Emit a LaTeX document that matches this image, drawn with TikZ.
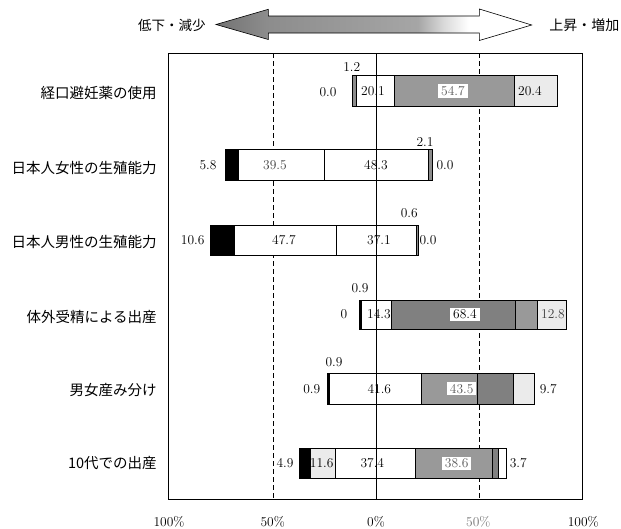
\documentclass[tikz,border=0pt]{standalone}
\usepackage{fontspec}
\newfontfamily\jp{Noto Sans CJK JP}
\usepackage{tikz}
\pgfdeclarehorizontalshading{arrowfade}{100bp}{color(0bp)=(black!55); color(25bp)=(black!55); color(33bp)=(black!45); color(57bp)=(black!35); color(61bp)=(black!15); color(65bp)=(white); color(100bp)=(white)}

\begin{document}
\begin{tikzpicture}[x=1pt,y=-1pt,line width=.7pt]
\tikzstyle{num} = [font=\fontsize{13.5}{14}\selectfont, inner sep=1pt]
\tikzstyle{numbox} = [num, fill=white, inner xsep=3pt, inner ysep=2pt, text=black!65]
\tikzstyle{tick} = [num, anchor=base, inner sep=0pt]
\tikzstyle{cat} = [font=\jp\fontsize{14.5}{15}\selectfont, anchor=east, inner sep=0pt]
\tikzstyle{segblk} = [draw, fill=black]
\tikzstyle{segwht} = [draw, fill=white]
\tikzstyle{seggry} = [draw, fill=black!40]
\tikzstyle{segdot} = [draw, fill=black!50]
\tikzstyle{seglit} = [draw, fill=black!8]
\tikzstyle{seghat} = [draw, fill=black!45]
\tikzstyle{grid} = [line width=.6pt, dash pattern=on 5pt off 3pt]
\useasboundingbox (0,0) rectangle (621,528);

% direction arrow
\shadedraw[shading=arrowfade, line width=.6pt] (216,24.5) -- (268.3,9.3) -- (268.3,16)
  -- (479.3,16) -- (479.3,9) -- (531.7,25) -- (479.3,40.5) -- (479.3,33)
  -- (268.3,33) -- (268.3,39.5) -- cycle;
\node[cat, font=\jp\fontsize{13.5}{14}\selectfont] (down) at (206,25) {低下・減少};
\node[cat, anchor=west, font=\jp\fontsize{14}{14}\selectfont] (up) at (549,25) {上昇・増加};

% frame and grid
\draw (168.3,53.3) rectangle (582.7,499.3);
\draw[grid] (273,53.3) -- (273,499.3);
\draw[grid] (479.3,53.3) -- (479.3,499.3);

% categories
\node[cat] (c1) at (157,93.3) {経口避妊薬の使用};
\node[cat] (c2) at (157,168) {日本人女性の生殖能力};
\node[cat] (c3) at (157,241.7) {日本人男性の生殖能力};
\node[cat] (c4) at (157,316.7) {体外受精による出産};
\node[cat] (c5) at (157,390) {男女産み分け};
\node[cat] (c6) at (157,463.3) {10代での出産};

% bars
\draw[seghat] (352.7,75) rectangle (356,106.7);
\draw[segwht] (356,75) rectangle (394.5,106.7);
\draw[seggry] (394.5,75) rectangle (514.3,106.7);
\draw[seglit] (514.3,75) rectangle (557.7,106.7);

\draw[segblk] (225,149.3) rectangle (238.3,180);
\draw[segwht] (238.3,149.3) rectangle (324,180);
\draw[segwht] (324,149.3) rectangle (428.3,180);
\draw[seghat] (428.3,149.3) rectangle (432,180);

\draw[segblk] (210,225) rectangle (234.3,255);
\draw[segwht] (234.3,225) rectangle (336.7,255);
\draw[segwht] (336.7,225) rectangle (416.7,255);
\draw[seghat] (416.7,225) rectangle (418,255);

\draw[segblk] (359,300) rectangle (361,329);
\draw[segwht] (361,300) rectangle (391,329);
\draw[segdot] (391,300) rectangle (515,329);
\draw[seggry] (515,300) rectangle (537.3,329);
\draw[seglit] (537.3,300) rectangle (566,329);

\draw[segblk] (327.7,373.3) rectangle (329.7,404);
\draw[segwht] (329.7,373.3) rectangle (421,404);
\draw[seggry] (421,373.3) rectangle (477.7,404);
\draw[segdot] (477.7,373.3) rectangle (513.3,404);
\draw[seglit] (513.3,373.3) rectangle (534.3,404);

\draw[segblk] (299.3,448.3) rectangle (310.7,478.3);
\draw[seglit] (310.7,448.3) rectangle (335,478.3);
\draw[segwht] (335,448.3) rectangle (415,478.3);
\draw[seggry] (415,448.3) rectangle (492.3,478.3);
\draw[segdot] (492.3,448.3) rectangle (498.5,478.3);
\draw[segwht] (498.5,448.3) rectangle (506.7,478.3);

% zero line
\draw (376,53.3) -- (376,499.3);

% values
\node[num] (v11) at (328,91.7) {0.0};
\node[num] (v12) at (351.7,66.7) {1.2};
\node[num] (v13) at (373,91) {20.1};
\node[numbox] (v14) at (453,91) {54.7};
\node[num] (v15) at (530,91) {20.4};

\node[num] (v21) at (208,165.5) {5.8};
\node[num, text=black!75] (v22) at (275,165) {39.5};
\node[num] (v23) at (376,165) {48.3};
\node[num] (v24) at (425,141.7) {2.1};
\node[num] (v25) at (445,165.5) {0.0};

\node[num] (v31) at (192.7,240.5) {10.6};
\node[num] (v32) at (284,240) {47.7};
\node[num] (v33) at (379,240) {37.1};
\node[num] (v34) at (409.3,213.3) {0.6};
\node[num] (v35) at (428,240.5) {0.0};

\node[num] (v41) at (344,314.5) {0};
\node[num] (v42) at (360,288.3) {0.9};
\node[num] (v43) at (379,314.5) {14.3};
\node[numbox, text=black] (v44) at (465,314.5) {68.4};
\node[num, text=black!75] (v45) at (553,314.5) {12.8};

\node[num] (v51) at (311.7,389.5) {0.9};
\node[num] (v52) at (334,361.7) {0.9};
\node[num] (v53) at (379.3,388.7) {41.6};
\node[numbox] (v54) at (461.7,388.7) {43.5};
\node[num] (v55) at (548.3,389) {9.7};

\node[num] (v61) at (285,463.3) {4.9};
\node[num] (v62) at (321.7,463.3) {11.6};
\node[num] (v63) at (372.3,463.3) {37.4};
\node[numbox] (v64) at (456.7,463.3) {38.6};
\node[num] (v65) at (518.3,463.3) {3.7};

% axis
\node[tick] (t1) at (169,526) {100\%};
\node[tick] (t2) at (272.7,526) {50\%};
\node[tick] (t3) at (376,526) {0\%};
\node[tick, text=black!55] (t4) at (478.3,526) {50\%};
\node[tick] (t5) at (583.3,526) {100\%};
\end{tikzpicture}
\end{document}
